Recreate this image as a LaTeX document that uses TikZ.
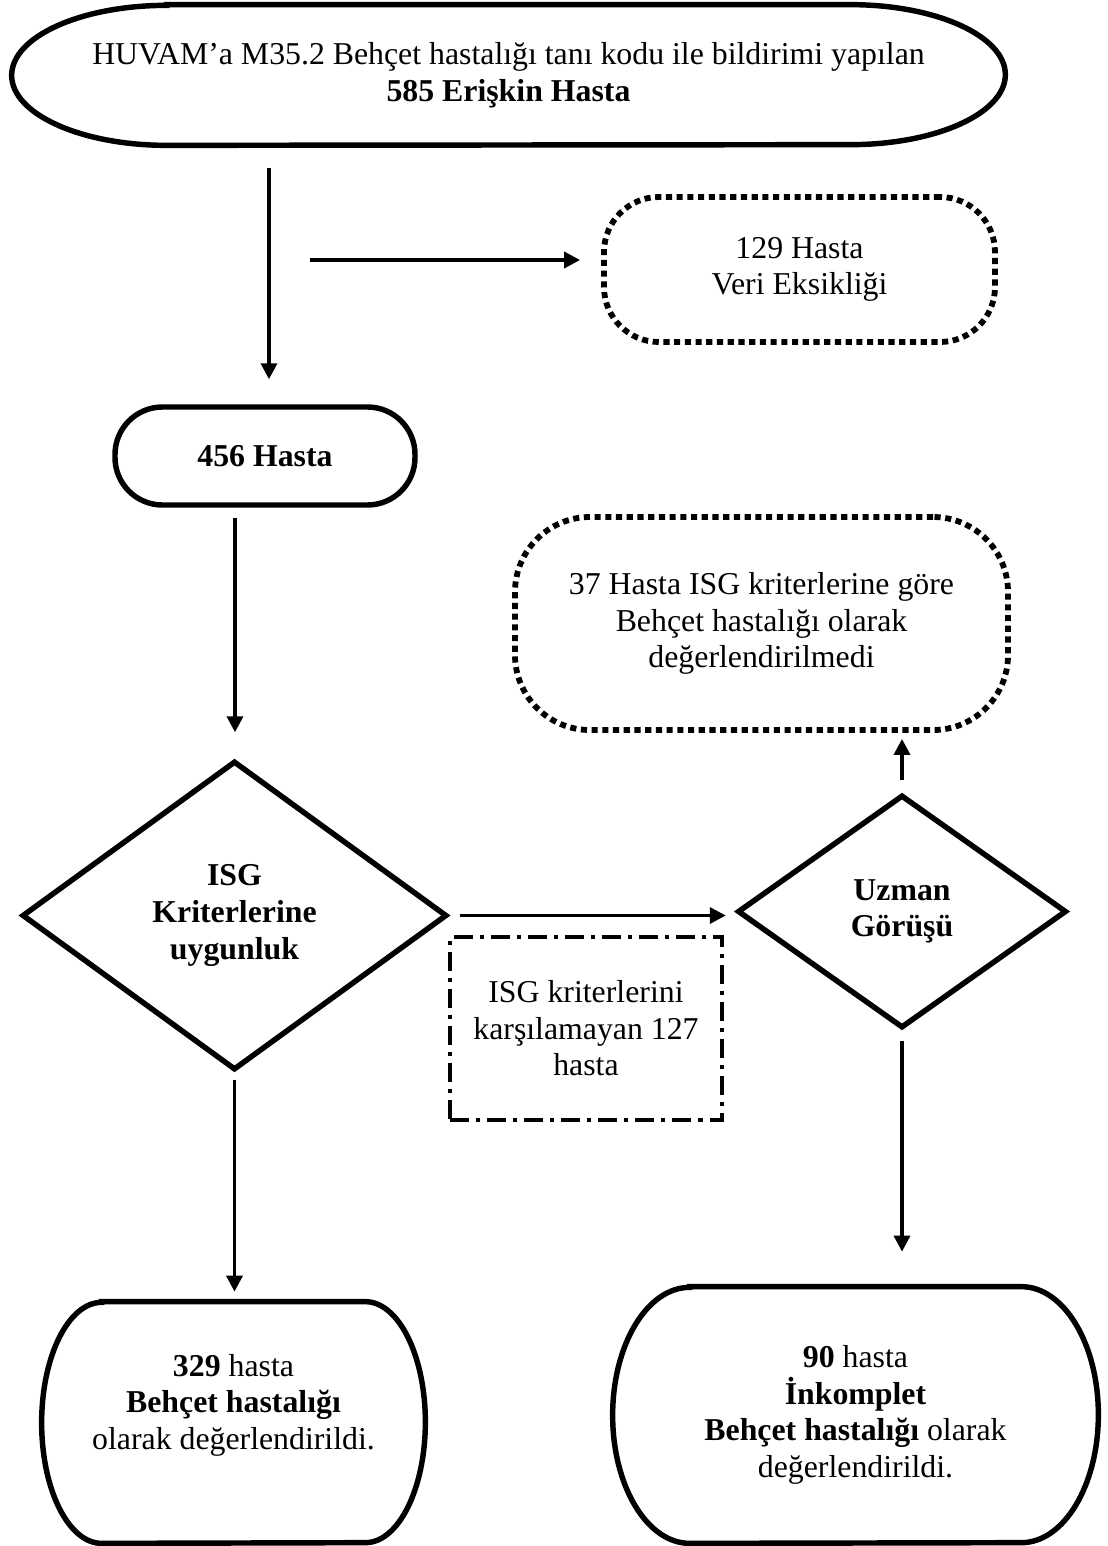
\documentclass[tikz,border=0pt]{standalone}
\usepackage{fontspec}
\setmainfont{Liberation Serif}
\usetikzlibrary{arrows.meta,shapes.geometric}

\tikzset{
  txt/.style={align=center, inner sep=0pt, font=\fontsize{18.1pt}{20.8pt}\selectfont},
  term/.style={txt},
  pill/.style={txt, draw, line width=3.1pt, rounded corners=0.95cm},
  dotbox/.style={txt, draw, line width=3.3pt, dash pattern=on 3.5pt off 2.6pt},
  dashdotbox/.style={txt, draw, line width=2.4pt, dash pattern=on 10.8pt off 4pt on 2.3pt off 4pt},
  decision/.style={txt, draw, diamond, line width=3.1pt},
  conn/.style={line width=2pt, -{Triangle[length=0.32cm,width=0.32cm]}},
}

% outline of a terminal: flat top and bottom, half ellipses at the ends
\newcommand{\termoutline}[3]{%
  \draw[line width=3.1pt] ([xshift=#2]#1.north west) -- ([xshift=-#2]#1.north east)
    arc[start angle=90, end angle=-90, x radius=#2, y radius=#3]
    -- ([xshift=#2]#1.south west)
    arc[start angle=270, end angle=90, x radius=#2, y radius=#3] -- cycle;}

\begin{document}
\begin{tikzpicture}
    \useasboundingbox (0,0) rectangle (22.14,-30.92);

    % Top
    \node[term, minimum width=19.86cm, minimum height=2.8cm] (huvam) at (10.17,-1.50)
      {HUVAM’a M35.2 Behçet hastalığı tanı kodu ile bildirimi yapılan\\\textbf{585 Erişkin Hasta}};
    \termoutline{huvam}{3.1cm}{1.4cm}

    \node[dotbox, rounded corners=1.1cm, minimum width=7.82cm, minimum height=2.9cm] (veri) at (15.99,-5.39)
      {129 Hasta\\Veri Eksikliği};
    \node[pill, minimum width=6.0cm, minimum height=1.96cm] (hasta) at (5.30,-9.12) {\textbf{456 Hasta}};

    % Middle
    \node[dotbox, rounded corners=1.5cm, minimum width=9.86cm, minimum height=4.26cm] (ret) at (15.23,-12.47)
      {37 Hasta ISG kriterlerine göre\\Behçet hastalığı olarak\\değerlendirilmedi};
    \node[decision, minimum width=8.5cm, minimum height=6.18cm] (isg) at (4.69,-18.31)
      {\textbf{ISG}\\\textbf{Kriterlerine}\\\textbf{uygunluk}};
    \node[decision, minimum width=6.58cm, minimum height=4.66cm] (uzman) at (18.04,-18.23)
      {\textbf{Uzman}\\\textbf{Görüşü}};
    \node[dashdotbox, minimum width=5.44cm, minimum height=3.66cm] (red) at (11.72,-20.57)
      {ISG kriterlerini\\karşılamayan 127\\hasta};

    % Bottom
    \node[term, minimum width=7.66cm, minimum height=4.82cm] (sol) at (4.67,-28.45) {};
    \node[txt] (soltext) at (4.67,-28.10)
      {\textbf{329} hasta\\\textbf{Behçet hastalığı}\\olarak değerlendirildi.};
    \termoutline{sol}{1.2cm}{2.41cm}
    \node[term, minimum width=9.7cm, minimum height=5.12cm] (sag) at (17.11,-28.30)
      {\textbf{90} hasta\\\textbf{İnkomplet}\\\textbf{Behçet hastalığı} olarak\\değerlendirildi.};
    \termoutline{sag}{1.54cm}{2.56cm}

    % Arrows
    \coordinate (c1) at (5.38,-3.36);
    \coordinate (c2) at (6.20,-5.20);
    \coordinate (c3) at (4.70,-10.36);
    \draw[conn, shorten >=0.5cm] (c1) -- (c1 |- hasta.north);
    \draw[conn, shorten >=0.42cm] (c2) -- (c2 -| veri.west);
    \draw[conn, shorten >=0.52cm] (c3) -- (c3 |- isg.north);
    \draw[conn, shorten <=0.2cm, shorten >=0.18cm] (isg.east) -- (isg.east -| uzman.west);
    \draw[conn, shorten <=0.24cm, shorten >=0.12cm] (uzman.north) -- (uzman.north |- ret.south);
    \draw[conn, shorten <=0.14cm, shorten >=0.2cm] (isg.south) -- (isg.south |- sol.north);
    \draw[conn, shorten <=0.2cm, shorten >=0.7cm] (uzman.south) -- (uzman.south |- sag.north);
\end{tikzpicture}
\end{document}
